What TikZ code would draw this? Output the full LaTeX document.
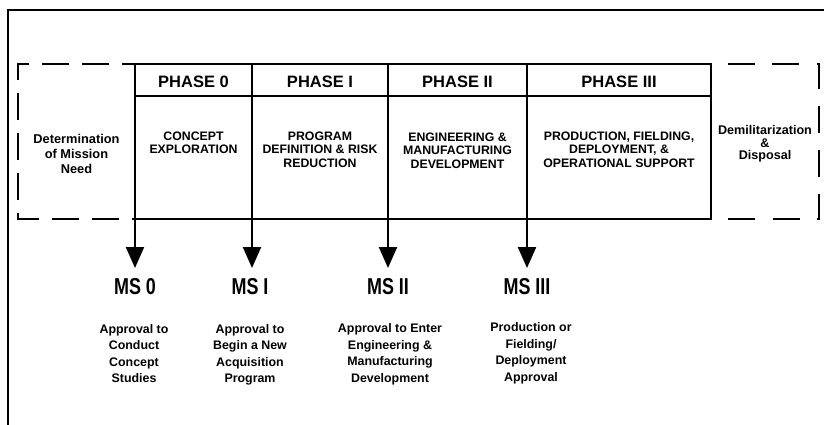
\documentclass[tikz,border=0pt]{standalone}
\usepackage{fontspec}
\setmainfont{Liberation Sans}
\usetikzlibrary{arrows.meta}
\begin{document}
\begin{tikzpicture}[x=1pt,y=-1pt,
  frame/.style={line width=2.2pt},
  outer/.style={line width=2pt},
  dashbox/.style={line width=2.6pt, dash pattern=on 27pt off 13pt},
  head/.style={font=\fontsize{16.5}{18}\selectfont\bfseries, inner sep=0pt},
  body/.style={font=\fontsize{12.3}{13.4}\selectfont\bfseries, align=center, anchor=north, inner sep=0pt},
  side/.style={font=\fontsize{12.8}{15}\selectfont\bfseries, align=center, inner sep=0pt},
  ms/.style={font=\fontsize{23}{24}\selectfont\bfseries, anchor=north, inner sep=0pt},
  desc/.style={font=\fontsize{12.4}{16.6}\selectfont\bfseries, align=center, anchor=north, inner sep=0pt},
  msarrow/.style={line width=2.2pt, shorten >=10pt, -{Triangle[length=21pt,width=18pt]}}
]
\useasboundingbox (0,0) rectangle (824,425);

% outer frame (top and left only)
\draw[outer] (824,10) -- (8,10) -- (8,425);

% main box
\draw[frame] (135,64) rectangle (711,219);
\draw[frame] (135,96) -- (711,96);

% dashed side boxes
\draw[dashbox, dash phase=14pt] (135,64) -- (18,64) -- (18,219) -- (135,219);
\draw[dashbox, dash pattern=on 27pt off 17.2pt, dash phase=27pt] (711,64) -- (819,64) -- (819,219) -- (711,219);

% column tops
\coordinate (top0) at (135,64);
\coordinate (top1) at (252,64);
\coordinate (top2) at (388,64);
\coordinate (top3) at (527,64);

% headers
\node[head] (h0) at (193.5,82) {PHASE 0};
\node[head] (h1) at (320,82) {PHASE I};
\node[head] (h2) at (457.5,82) {PHASE II};
\node[head] (h3) at (619,82) {PHASE III};

% body texts
\node[body] (b0) at (193.5,131.5) {CONCEPT\\EXPLORATION};
\node[body] (b1) at (320,131.5) {PROGRAM\\DEFINITION \& RISK\\REDUCTION};
\node[body] (b2) at (457.5,132.5) {ENGINEERING \&\\MANUFACTURING\\DEVELOPMENT};
\node[body] (b3) at (619,131.5) {PRODUCTION, FIELDING,\\DEPLOYMENT, \&\\OPERATIONAL SUPPORT};

\node[side] (need) at (76.5,154) {Determination\\of Mission\\Need};
\node[side, font=\fontsize{12.6}{12.5}\selectfont\bfseries] (demil) at (765,144) {Demilitarization\\\&\\Disposal};

% milestones
\node[ms] (ms0) at (135,278) {\scalebox{0.78}[1]{MS 0}};
\node[ms] (ms1) at (250,278) {\scalebox{0.78}[1]{MS I}};
\node[ms] (ms2) at (388,278) {\scalebox{0.78}[1]{MS II}};
\node[ms] (ms3) at (527,278) {\scalebox{0.78}[1]{MS III}};

\draw[msarrow] (top0) -- (top0 |- ms0.north);
\draw[msarrow] (top1) -- (top1 |- ms1.north);
\draw[msarrow] (top2) -- (ms2.north);
\draw[msarrow] (top3) -- (ms3.north);

% descriptions
\node[desc] (d0) at (134,324) {Approval to\\Conduct\\Concept\\Studies};
\node[desc] (d1) at (250,324) {Approval to\\Begin a New\\Acquisition\\Program};
\node[desc] (d2) at (390,323.5) {Approval to Enter\\Engineering \&\\Manufacturing\\Development};
\node[desc] (d3) at (531,322.5) {Production or\\Fielding/\\Deployment\\Approval};
\end{tikzpicture}
\end{document}
